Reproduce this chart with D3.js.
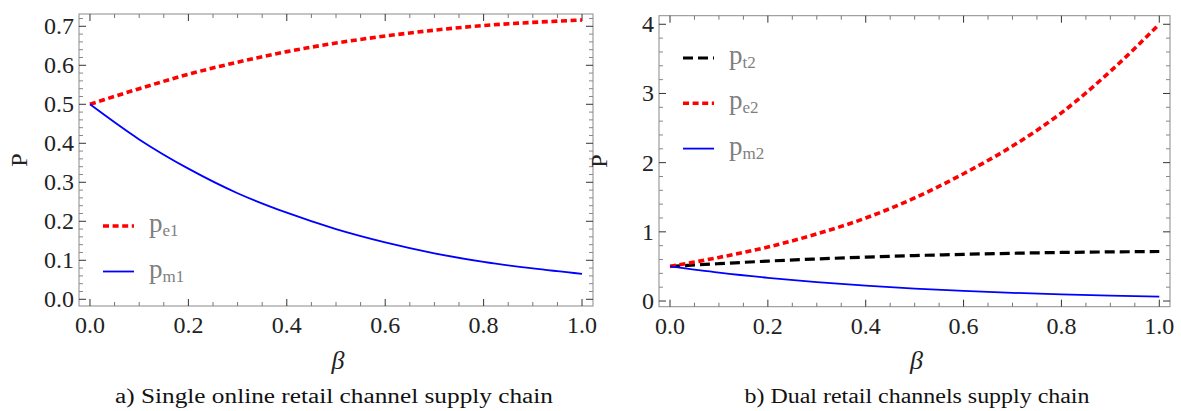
<!DOCTYPE html>
<html>
<head>
<meta charset="utf-8">
<script src="https://cdn.jsdelivr.net/npm/d3@7"></script>
<style>
  body { margin: 0; background: #fff; }
  svg text { font-family: 'Liberation Serif', 'Times New Roman', serif; }
</style>
</head>
<body>
<svg id="chart" width="1181" height="411"></svg>
<script>
// beta values along the x axis
const beta = [0, 0.1, 0.2, 0.3, 0.4, 0.5, 0.6, 0.7, 0.8, 0.9, 1.0]

// a) single online retail channel
const pe1 = [0.5, 0.54, 0.577, 0.608, 0.635, 0.657, 0.675, 0.69, 0.702, 0.71, 0.716]
const pm1 = [0.5, 0.41, 0.335, 0.272, 0.222, 0.18, 0.146, 0.118, 0.096, 0.079, 0.065]

// b) dual retail channels
const pt2 = [0.5, 0.54, 0.577, 0.608, 0.635, 0.657, 0.675, 0.69, 0.702, 0.71, 0.716]
const pe2 = [0.5, 0.63, 0.78, 0.97, 1.2, 1.49, 1.84, 2.24, 2.72, 3.32, 4.0]
const pm2 = [0.5, 0.41, 0.335, 0.272, 0.222, 0.18, 0.146, 0.118, 0.096, 0.079, 0.065]

const xTicks = [0, 0.2, 0.4, 0.6, 0.8, 1.0]
const yTicksA = [0, 0.1, 0.2, 0.3, 0.4, 0.5, 0.6, 0.7]
const yTicksB = [0, 1, 2, 3, 4]

const svg = d3.select('#chart')

const styles = {
    dotted: { color: '#ff0000', width: 3.6, dash: '6,3.6' },
    dashed: { color: '#000000', width: 3.2, dash: '10,5' },
    solid: { color: '#0000ff', width: 1.8, dash: null }
}

const drawPanel = (opt) => {
    const g = svg.append('g')
    const x = d3.scaleLinear().domain(opt.xDomain).range([opt.left, opt.right])
    const y = d3.scaleLinear().domain(opt.yDomain).range([opt.bottom, opt.top])

    // frame
    g.append('rect')
        .attr('x', opt.left)
        .attr('y', opt.top)
        .attr('width', opt.right - opt.left)
        .attr('height', opt.bottom - opt.top)
        .attr('fill', 'none')
        .attr('stroke', '#8a8a8a')
        .attr('stroke-width', 1)

    const xMinor = d3.range(0, 1.0001, 0.05).filter(v => !xTicks.some(t => Math.abs(t - v) < 1e-6))
    const yMinor = d3.range(0, opt.yDomain[1], opt.yMinorStep).filter(v => !opt.yTicks.some(t => Math.abs(t - v) < 1e-6))

    // inward ticks on all four sides
    const tick = (x1, y1, x2, y2, c) => g.append('line')
        .attr('x1', x1).attr('y1', y1).attr('x2', x2).attr('y2', y2)
        .attr('stroke', c).attr('stroke-width', 1)

    xTicks.forEach(v => {
        tick(x(v), opt.bottom, x(v), opt.bottom - 7, '#333')
        tick(x(v), opt.top, x(v), opt.top + 7, '#333')
    })
    xMinor.forEach(v => {
        tick(x(v), opt.bottom, x(v), opt.bottom - 4, '#777')
        tick(x(v), opt.top, x(v), opt.top + 4, '#777')
    })
    opt.yTicks.forEach(v => {
        tick(opt.left, y(v), opt.left + 7, y(v), '#333')
        tick(opt.right, y(v), opt.right - 7, y(v), '#333')
    })
    yMinor.forEach(v => {
        tick(opt.left, y(v), opt.left + 4, y(v), '#888')
        tick(opt.right, y(v), opt.right - 4, y(v), '#888')
    })

    // tick labels
    g.selectAll('.xl').data(xTicks).enter().append('text')
        .attr('x', d => x(d))
        .attr('y', opt.bottom + 27)
        .attr('text-anchor', 'middle')
        .attr('font-size', 24)
        .attr('fill', '#222')
        .text(d => d3.format('.1f')(d))

    g.selectAll('.yl').data(opt.yTicks).enter().append('text')
        .attr('x', opt.left - 5)
        .attr('y', d => y(d) + 8)
        .attr('text-anchor', 'end')
        .attr('font-size', 24)
        .attr('fill', '#222')
        .text(opt.yFormat)

    // curves
    const line = d3.line()
        .x((d, i) => x(beta[i]))
        .y(d => y(d))
        .curve(d3.curveMonotoneX)

    opt.series.forEach(s => {
        const st = styles[s.style]
        g.append('path')
            .datum(s.values)
            .attr('d', line)
            .attr('fill', 'none')
            .attr('stroke', st.color)
            .attr('stroke-width', st.width)
            .attr('stroke-dasharray', st.dash)
    })

    // legend
    opt.series.forEach((s, i) => {
        const st = styles[s.style]
        const ly = opt.legendY + i * opt.legendGap
        g.append('line')
            .attr('x1', opt.legendX).attr('x2', opt.legendX + 31)
            .attr('y1', ly).attr('y2', ly)
            .attr('stroke', st.color)
            .attr('stroke-width', st.width)
            .attr('stroke-dasharray', st.dash)
        const t = g.append('text')
            .attr('x', opt.legendX + 46)
            .attr('y', ly + 6)
            .attr('font-size', 27)
            .attr('fill', '#7f7f7f')
        t.append('tspan').text('p')
        t.append('tspan').attr('font-size', 17).attr('dy', 4).text(s.sub)
    })

    // axis titles
    g.append('text')
        .attr('transform', `translate(${opt.left - 52},${(opt.top + opt.bottom) / 2}) rotate(-90)`)
        .attr('text-anchor', 'middle')
        .attr('font-size', 24)
        .attr('fill', '#222')
        .text('P')

    g.append('text')
        .attr('x', (opt.left + opt.right) / 2 + 2)
        .attr('y', 369)
        .attr('text-anchor', 'middle')
        .attr('font-size', 26)
        .attr('font-style', 'italic')
        .attr('fill', '#222')
        .text('β')

    g.append('text')
        .attr('x', opt.captionX)
        .attr('y', 403)
        .attr('text-anchor', 'middle')
        .attr('font-size', 20)
        .attr('font-family', "'DejaVu Serif', serif")
        .attr('textLength', opt.captionWidth)
        .attr('lengthAdjust', 'spacingAndGlyphs')
        .attr('fill', '#111')
        .text(opt.caption)
}

drawPanel({
    left: 79, right: 593, top: 14, bottom: 306,
    xDomain: [-0.0223, 1.0223],
    yDomain: [-0.0172, 0.7315],
    yTicks: yTicksA,
    yMinorStep: 0.02,
    yFormat: d => d3.format('.1f')(d),
    series: [
        { values: pe1, style: 'dotted', sub: 'e1' },
        { values: pm1, style: 'solid', sub: 'm1' }
    ],
    legendX: 103, legendY: 226, legendGap: 45.5,
    captionX: 334, captionWidth: 438,
    caption: 'a) Single online retail channel supply chain'
})

drawPanel({
    left: 659, right: 1170, top: 15.7, bottom: 306.7,
    xDomain: [-0.0225, 1.0219],
    yDomain: [-0.082, 4.124],
    yTicks: yTicksB,
    yMinorStep: 0.2,
    yFormat: d => d3.format('d')(d),
    series: [
        { values: pt2, style: 'dashed', sub: 't2' },
        { values: pe2, style: 'dotted', sub: 'e2' },
        { values: pm2, style: 'solid', sub: 'm2' }
    ],
    legendX: 683, legendY: 58, legendGap: 45.3,
    captionX: 917, captionWidth: 345,
    caption: 'b) Dual retail channels supply chain'
})
</script>
</body>
</html>
